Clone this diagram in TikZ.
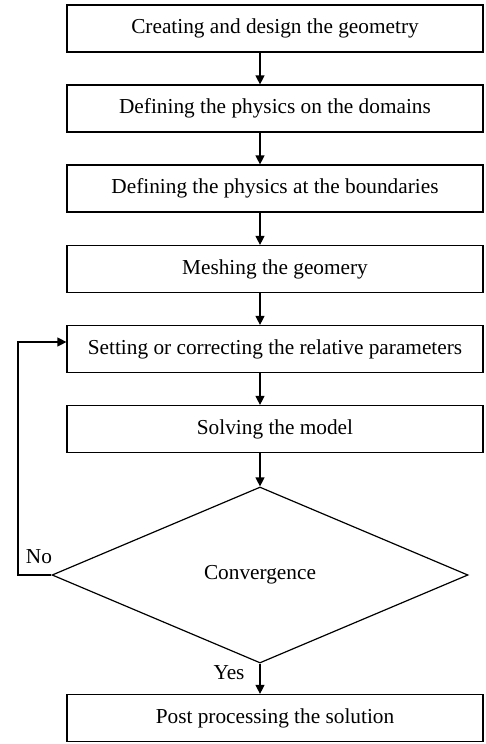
\documentclass[tikz,border=0pt]{standalone}
\usepackage{fontspec}
\setmainfont{Liberation Serif}
\usetikzlibrary{shapes.geometric,arrows.meta}
\begin{document}
\begin{tikzpicture}[x=1pt,y=-1pt,
  stepbox/.style={draw, line width=1.2pt, minimum width=416pt, minimum height=47pt, inner sep=0pt, font=\fontsize{21.3}{25}\selectfont},
  decide/.style={draw, diamond, line width=1.2pt, minimum width=416pt, minimum height=176pt, inner sep=0pt, font=\fontsize{21.3}{25}\selectfont},
  flow/.style={-{Triangle[length=9pt,width=9pt]}, line width=1.2pt}]
\useasboundingbox (0,0) rectangle (485,744);
\node[stepbox] (b1) at (275,28.5) {Creating and design the geometry};
\node[stepbox] (b2) at (275,108.5) {Defining the physics on the domains};
\node[stepbox] (b3) at (275,188.5) {Defining the physics at the boundaries};
\node[stepbox] (b4) at (275,269) {Meshing the geomery};
\node[stepbox] (b5) at (275,349) {Setting or correcting the relative parameters};
\node[stepbox] (b6) at (275,429) {Solving the model};
\node[decide] (d) at (260,575) {Convergence};
\node[stepbox] (b7) at (275,718) {Post processing the solution};
\node[font=\fontsize{21.3}{25}\selectfont] (no) at (39,557) {No};
\node[font=\fontsize{21.3}{25}\selectfont] (yes) at (229,673) {Yes};
\coordinate (fb) at (18,575);
\draw[flow] (b1.south -| d) -- (b2.north -| d);
\draw[flow] (b2.south -| d) -- (b3.north -| d);
\draw[flow] (b3.south -| d) -- (b4.north -| d);
\draw[flow] (b4.south -| d) -- (b5.north -| d);
\draw[flow] (b5.south -| d) -- (b6.north -| d);
\draw[flow] (b6.south -| d) -- (d.north);
\draw[flow] (d.south) -- (b7.north -| d);
\draw[flow] (d.west) -- (fb) |- ([yshift=7pt]b5.west);
\end{tikzpicture}
\end{document}
